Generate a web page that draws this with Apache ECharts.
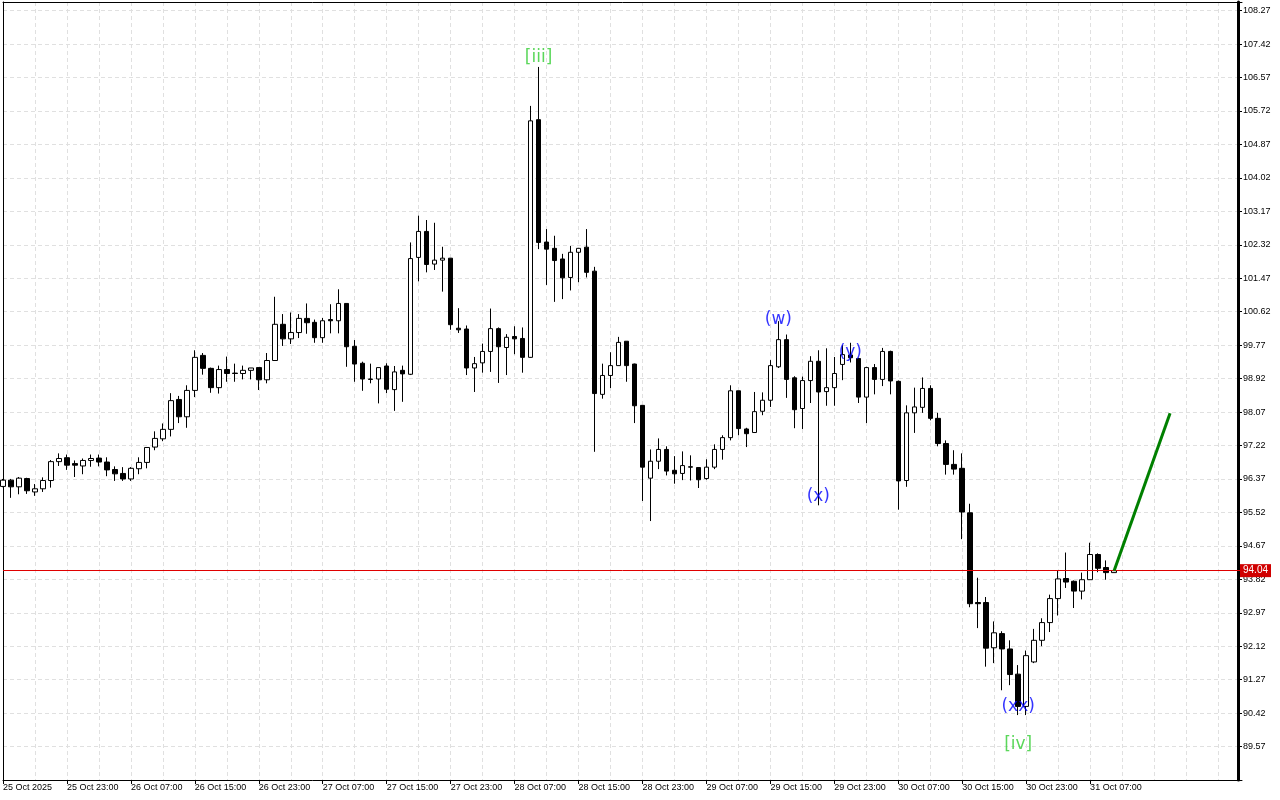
<!DOCTYPE html>
<html>
<head>
<meta charset="utf-8">
<title>H1 chart</title>
<script src="https://cdn.jsdelivr.net/npm/echarts@6/dist/echarts.min.js"></script>
<style>
  html, body { margin: 0; padding: 0; background: #fff; }
  #chart { width: 1280px; height: 800px; }
</style>
</head>
<body>
<div id="chart"></div>
<script>
// hourly candles, first bar = 25 Oct 15:00
const opens = [
  96.18, 96.34, 96.17, 96.38, 96.04, 96.12, 96.33, 96.81, 96.91, 96.76,
  96.70, 96.84, 96.90, 96.80, 96.61, 96.51, 96.37, 96.63, 96.79, 97.18,
  97.39, 97.63, 98.39, 97.95, 98.62, 99.51, 99.18, 98.69, 99.15, 99.06,
  99.05, 99.13, 99.20, 98.89, 99.38, 100.30, 99.93, 100.09, 100.45, 100.35,
  99.96, 100.42, 100.39, 100.83, 99.74, 99.31, 98.91, 98.91, 99.24, 98.64,
  99.13, 99.03, 102.00, 102.66, 101.83, 101.93, 101.98, 100.20, 100.18, 99.19,
  99.32, 99.61, 100.19, 99.71, 99.99, 99.94, 99.46, 105.50, 102.39, 102.23,
  101.96, 101.49, 102.13, 102.26, 101.65, 98.52, 99.00, 99.25, 99.87, 99.29,
  98.24, 96.39, 96.82, 97.12, 96.59, 96.51, 96.68, 96.66, 96.38, 96.67,
  97.12, 97.42, 98.61, 97.64, 97.55, 98.09, 98.37, 99.22, 99.91, 98.94,
  98.16, 98.87, 99.36, 98.59, 98.69, 99.28, 99.52, 99.43, 98.45, 99.20,
  98.90, 99.61, 98.85, 96.33, 98.05, 98.19, 98.67, 97.91, 97.27, 96.74,
  96.64, 95.51, 93.23, 93.23, 92.08, 92.44, 92.05, 91.41, 90.59, 91.72,
  92.27, 92.72, 93.33, 93.84, 93.77, 93.52, 93.81, 94.45, 94.12, 93.99
];
const closes = [
  96.34, 96.17, 96.39, 96.07, 96.12, 96.33, 96.81, 96.89, 96.72, 96.72,
  96.84, 96.89, 96.80, 96.60, 96.50, 96.37, 96.64, 96.79, 97.17, 97.40,
  97.63, 98.36, 97.95, 98.62, 99.46, 99.18, 98.69, 99.15, 99.05, 99.05,
  99.13, 99.19, 98.89, 99.38, 100.30, 99.93, 100.09, 100.45, 100.34, 99.96,
  100.39, 100.39, 100.83, 99.73, 99.29, 98.91, 98.90, 99.20, 98.65, 99.09,
  99.04, 101.97, 102.66, 101.82, 101.93, 101.98, 100.29, 100.16, 99.19, 99.30,
  99.61, 100.19, 99.73, 99.97, 99.93, 99.46, 105.47, 102.38, 102.21, 101.92,
  101.48, 102.13, 102.23, 101.62, 98.54, 99.00, 99.25, 99.84, 99.25, 98.23,
  96.67, 96.82, 97.12, 96.57, 96.50, 96.71, 96.67, 96.35, 96.67, 97.12,
  97.42, 98.61, 97.65, 97.52, 98.08, 98.37, 99.25, 99.91, 98.90, 98.13,
  98.87, 99.36, 98.58, 98.69, 99.05, 99.53, 99.45, 98.45, 99.20, 98.90,
  99.61, 98.86, 96.32, 98.05, 98.20, 98.67, 97.91, 97.27, 96.74, 96.62,
  95.53, 93.20, 93.20, 92.07, 92.46, 92.05, 91.40, 90.59, 91.88, 92.27,
  92.72, 93.33, 93.83, 93.75, 93.52, 93.81, 94.45, 94.10, 93.99, 94.04
];
const lows = [
  96.16, 95.89, 95.98, 95.99, 95.94, 96.04, 96.15, 96.70, 96.60, 96.42,
  96.49, 96.68, 96.69, 96.44, 96.32, 96.32, 96.32, 96.49, 96.64, 97.10,
  97.33, 97.45, 97.79, 97.67, 98.45, 99.02, 98.56, 98.54, 98.84, 98.84,
  98.90, 98.90, 98.63, 98.80, 99.38, 99.75, 99.80, 99.95, 100.06, 99.83,
  99.83, 100.07, 100.07, 99.22, 98.84, 98.61, 98.80, 98.29, 98.55, 98.10,
  98.33, 99.01, 101.39, 101.62, 101.68, 101.13, 100.16, 100.08, 99.01, 98.58,
  99.07, 99.09, 98.81, 99.01, 99.54, 99.07, 99.45, 102.21, 101.30, 100.87,
  100.94, 101.16, 101.37, 101.49, 97.06, 98.41, 98.68, 99.25, 98.84, 97.79,
  95.81, 95.30, 96.62, 96.46, 96.25, 96.34, 96.33, 96.14, 96.35, 96.62,
  96.86, 97.35, 97.48, 97.18, 97.55, 97.99, 98.20, 99.19, 98.43, 97.66,
  97.64, 98.30, 95.70, 98.23, 98.23, 98.88, 99.33, 98.30, 97.79, 98.52,
  98.73, 98.52, 95.59, 96.17, 97.54, 98.05, 97.86, 97.20, 96.48, 96.48,
  94.84, 93.11, 92.58, 91.60, 91.69, 91.00, 91.13, 90.37, 90.37, 91.69,
  92.12, 92.48, 92.90, 93.60, 93.09, 93.31, 93.81, 94.00, 93.81, 93.99
];
const highs = [
  96.37, 96.37, 96.42, 96.40, 96.24, 96.41, 96.85, 97.02, 96.99, 96.84,
  96.89, 96.99, 96.99, 96.92, 96.69, 96.67, 96.67, 96.92, 97.17, 97.58,
  97.78, 98.55, 98.48, 98.75, 99.64, 99.57, 99.20, 99.25, 99.48, 99.30,
  99.25, 99.19, 99.20, 99.57, 101.00, 100.56, 100.60, 100.56, 100.83, 100.42,
  100.46, 100.81, 101.19, 100.83, 99.90, 99.35, 99.30, 99.20, 99.31, 99.24,
  99.25, 102.38, 103.06, 102.95, 102.88, 102.27, 101.98, 100.71, 100.27, 99.47,
  99.81, 100.70, 100.22, 100.05, 100.25, 100.22, 105.85, 106.84, 102.72, 102.55,
  102.09, 102.29, 102.23, 102.72, 101.76, 99.30, 99.59, 99.98, 99.87, 99.30,
  98.24, 97.12, 97.40, 97.20, 96.95, 97.07, 96.97, 96.66, 96.87, 97.25,
  97.48, 98.75, 98.61, 97.67, 98.58, 98.57, 99.39, 100.38, 100.04, 98.98,
  98.97, 99.49, 99.64, 99.69, 99.47, 99.77, 99.83, 99.45, 99.22, 99.29,
  99.70, 99.63, 98.87, 98.24, 98.69, 98.95, 98.75, 98.05, 97.35, 97.10,
  97.02, 95.74, 93.86, 93.37, 92.75, 92.50, 92.27, 91.64, 92.01, 92.56,
  92.83, 93.43, 94.04, 94.50, 93.79, 93.99, 94.75, 94.48, 94.30, 94.06
];

const firstLabel = '25 Oct 2025';
const startDay = 25, startHour = 15;
const slotCount = 156;          // bars + empty space on the right
const priceMin = 88.72, priceMax = 108.49, priceStep = 0.85;
const lastPrice = closes[closes.length - 1];

// projected move (bar index, price)
const forecast = [[139, 94.04], [146, 98.04]];

// wave marks
const waveLabels = [
  { text: '[iii]', idx: 67, price: 107.07, color: '#32cd32' },
  { text: '(w)', idx: 97, price: 100.41, color: '#0000ff' },
  { text: '(x)', idx: 102, price: 95.93, color: '#0000ff' },
  { text: '(y)', idx: 106, price: 99.59, color: '#0000ff' },
  { text: '(xx)', idx: 127, price: 90.59, color: '#0000ff' },
  { text: '[iv]', idx: 127, price: 89.62, color: '#32cd32' }
];

const pad = n => (n < 10 ? '0' : '') + n;
const categories = [];
for (let i = 0; i < slotCount; i++) {
  const h = startHour + i;
  categories.push((startDay + Math.floor(h / 24)) + ' Oct ' + pad(h % 24) + ':00');
}
const candleData = opens.map((o, i) => [o, closes[i], lows[i], highs[i]]);
const showTick = i => i % 8 === 0 && i < opens.length;

const font = 'Liberation Sans, Arial, sans-serif';
const gridLine = { show: true, lineStyle: { color: '#e0e0e0', type: [4, 3], width: 1 } };

const chart = echarts.init(document.getElementById('chart'));
const option = {
  animation: false,
  backgroundColor: '#fff',
  grid: { left: 2, top: 2, width: 1240, height: 778 },
  xAxis: [
    {
      type: 'category',
      data: categories,
      boundaryGap: false,
      axisLine: { lineStyle: { color: '#000', width: 1 } },
      axisTick: { show: true, length: 4, interval: showTick, lineStyle: { color: '#000' } },
      axisLabel: {
        interval: showTick,
        align: 'left',
        margin: 3,
        fontSize: 9,
        fontFamily: font,
        color: '#000',
        formatter: (v, i) => (i === 0 ? firstLabel : v)
      },
      splitLine: Object.assign({ interval: 3 }, gridLine)
    },
    {
      type: 'category',
      data: categories,
      position: 'top',
      boundaryGap: false,
      axisLine: { show: true, lineStyle: { color: '#000', width: 1 } },
      axisTick: { show: false },
      axisLabel: { show: false },
      splitLine: { show: false }
    }
  ],
  yAxis: [
    {
      type: 'value',
      position: 'right',
      offset: -4,
      min: priceMin,
      max: priceMax,
      interval: priceStep,
      axisLine: { show: true, lineStyle: { color: '#000', width: 3 } },
      axisTick: { show: true, length: 4, lineStyle: { color: '#000' } },
      axisLabel: {
        showMinLabel: false,
        showMaxLabel: false,
        margin: 5,
        fontSize: 9,
        fontFamily: font,
        color: '#000',
        formatter: v => v.toFixed(2)
      },
      splitLine: gridLine
    },
    {
      type: 'value',
      position: 'left',
      min: 0,
      max: 1,
      axisLine: { show: true, lineStyle: { color: '#000', width: 1 } },
      axisTick: { show: false },
      axisLabel: { show: false },
      splitLine: { show: false }
    }
  ],
  series: [
    {
      type: 'candlestick',
      data: candleData,
      barWidth: 5,
      itemStyle: {
        color: '#fff',
        color0: '#000',
        borderColor: '#000',
        borderColor0: '#000',
        borderColorDoji: '#000',
        borderWidth: 1
      },
      markLine: {
        silent: true,
        symbol: ['none', 'none'],
        data: [{ yAxis: lastPrice }],
        lineStyle: { color: '#e00000', width: 1, type: 'solid' },
        label: {
          position: 'end',
          distance: -2,
          formatter: p => p.value.toFixed(2),
          backgroundColor: '#d00000',
          color: '#fff',
          fontSize: 10,
          fontFamily: font,
          padding: [2, 3, 1, 3]
        }
      }
    },
    {
      type: 'line',
      data: forecast,
      symbol: 'none',
      silent: true,
      z: 5,
      lineStyle: { color: '#008000', width: 3 }
    },
    {
      type: 'scatter',
      silent: true,
      z: 6,
      symbolSize: 1,
      itemStyle: { color: 'transparent' },
      data: waveLabels.map(w => ({
        value: [w.idx, w.price],
        label: { formatter: w.text, color: w.color }
      })),
      label: {
        show: true,
        position: 'inside',
        fontSize: 17,
        fontFamily: 'DejaVu Sans, sans-serif'
      }
    }
  ]
};
chart.setOption(option);
</script>
</body>
</html>
